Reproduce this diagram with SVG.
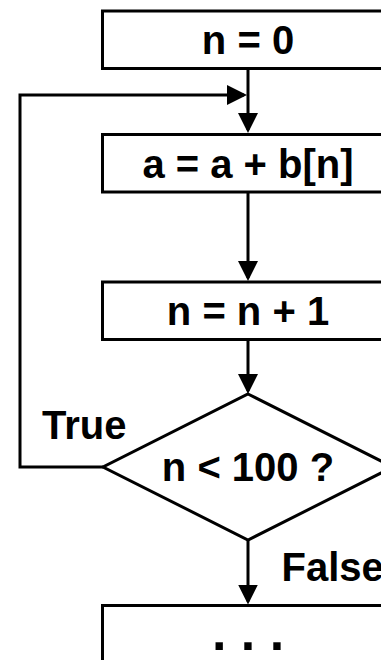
<svg xmlns="http://www.w3.org/2000/svg" width="381" height="660" viewBox="0 0 381 660">
<defs>
<style>
.box{fill:#fff;stroke:#000;stroke-width:3;stroke-linejoin:miter}
.lbl{font-family:"Liberation Sans",Arial,sans-serif;font-weight:bold;font-size:40px;fill:#000}
.mid{text-anchor:middle}
.conn{fill:none;stroke:#000;stroke-width:3;stroke-linejoin:miter;marker-end:url(#arr)}
</style>
<marker id="arr" viewBox="0 0 20 20" refX="17" refY="10" markerWidth="20" markerHeight="20" markerUnits="userSpaceOnUse" orient="auto">
<path d="M0,0 L20,10 L0,20 z" fill="#000"/>
</marker>
</defs>
<rect width="381" height="660" fill="#fff"/>
<g id="connectors">
<path class="conn" d="M248,68.5 V130"/>
<path class="conn" d="M248,192 V278"/>
<path class="conn" d="M248,339.5 V391"/>
<path class="conn" d="M248,540 V601.5"/>
<path class="conn" d="M103,467 H20 V95 H244"/>
</g>
<g id="n0">
<rect class="box" x="102.5" y="11" width="291" height="57.5"/>
<text class="lbl mid" x="248" y="54">n = 0</text>
</g>
<g id="sum">
<rect class="box" x="102.5" y="134.5" width="291" height="57.5"/>
<text class="lbl mid" x="248" y="177.5">a = a + b[n]</text>
</g>
<g id="inc">
<rect class="box" x="102.5" y="282" width="291" height="57.5"/>
<text class="lbl mid" x="248" y="325">n = n + 1</text>
</g>
<g id="cond">
<polygon class="box" points="248,394 393,467 248,540 103,467"/>
<text class="lbl mid" x="248" y="481">n &lt; 100 ?</text>
</g>
<g id="rest">
<rect class="box" x="102.5" y="605.5" width="291" height="57.5"/>
<text class="lbl mid" x="248" y="650" style="font-size:52px">. . .</text>
</g>
<g id="labels">
<text class="lbl" x="42" y="439">True</text>
<text class="lbl" x="281.5" y="581">False</text>
</g>
</svg>
